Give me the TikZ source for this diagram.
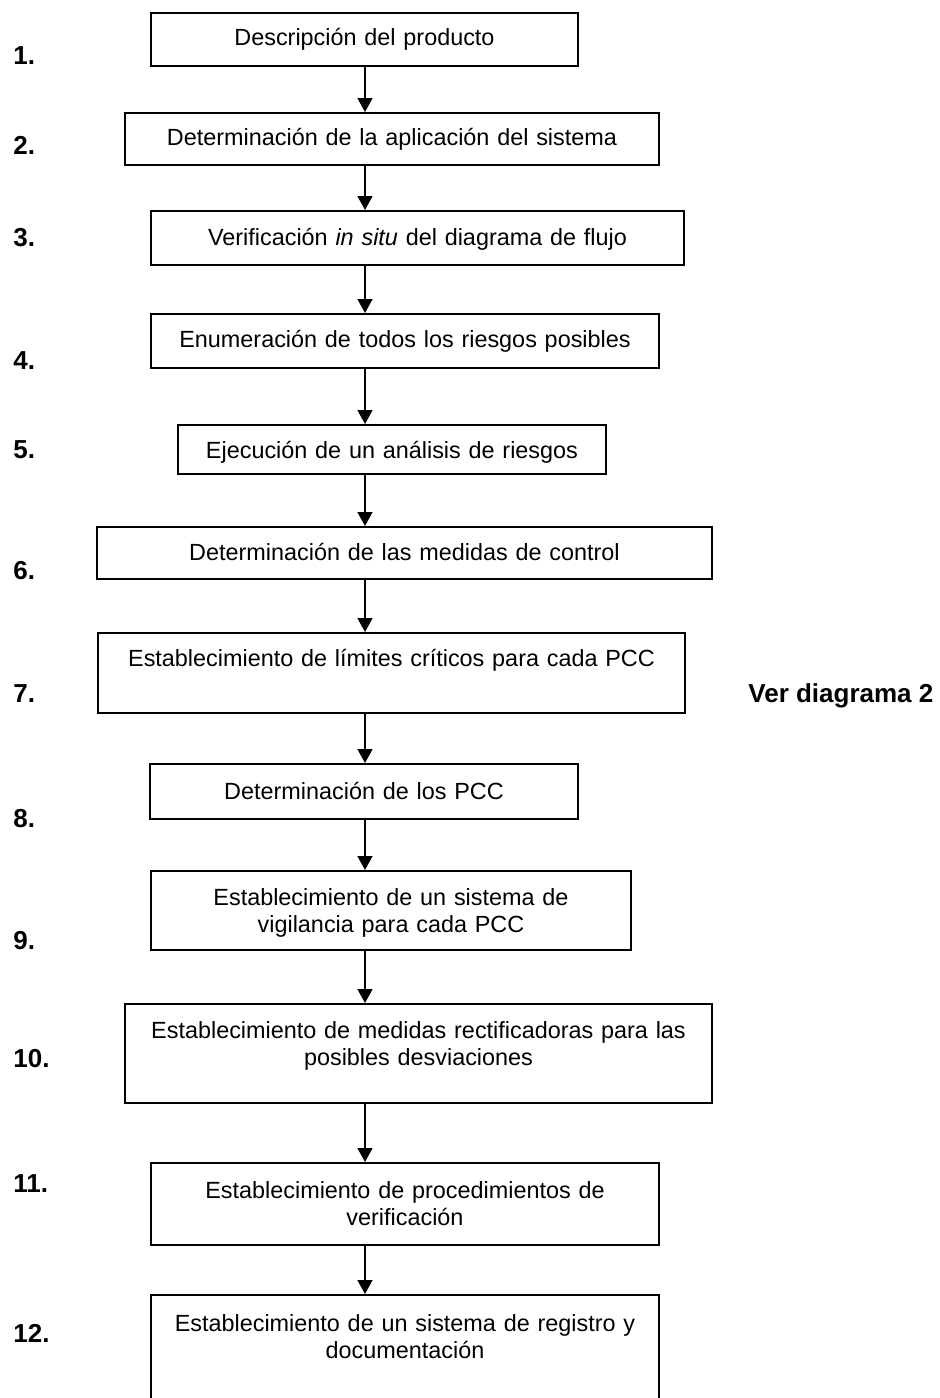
\documentclass[tikz,border=0pt]{standalone}
\usepackage{fontspec}
\setmainfont{Liberation Sans}
\usepackage{tikz}
\usetikzlibrary{positioning,arrows.meta}

\begin{document}
\begin{tikzpicture}[x=0.5pt,y=-0.5pt,
	box/.style={draw, line width=1pt, inner sep=0pt, anchor=north, align=center, font=\fontsize{11.7}{13.8}\selectfont},
	num/.style={anchor=base west, inner sep=0pt, font=\fontsize{13}{15}\selectfont\bfseries},
	arr/.style={line width=0.75pt, -{Triangle[length=7pt,width=7.5pt]}}]
				\useasboundingbox (0,0) rectangle (939,1398);
				\clip (0,0) rectangle (939,1398);
				\coordinate (ax) at (365,0);
				\node[box, text width=213.5pt, text height=16pt, text depth=10.5pt] (s1) at (364.5,12) {Descripción del producto};
				\node[box, text width=267pt, text height=16pt, text depth=10pt] (s2) at (392,112) {Determinación de la aplicación del sistema};
				\node[box, text width=266.5pt, text height=17pt, text depth=10pt] (s3) at (417.5,210) {Verificación \textit{in situ} del diagrama de flujo};
				\node[box, text width=254pt, text height=16.5pt, text depth=10.5pt] (s4) at (405,313) {Enumeración de todos los riesgos posibles};
				\node[box, text width=214pt, text height=16.5pt, text depth=8pt] (s5) at (392,424) {Ejecución de un análisis de riesgos};
				\node[box, text width=307.5pt, text height=16.5pt, text depth=9.5pt] (s6) at (404.5,526) {Determinación de las medidas de control};
				\node[box, text width=293.5pt, text height=16.5pt, text depth=23.5pt] (s7) at (391.5,632) {Establecimiento de límites críticos para cada PCC};
				\node[box, text width=214pt, text height=17.5pt, text depth=10pt] (s8) at (364,763) {Determinación de los PCC};
				\node[box, text width=240pt, text height=17pt, text depth=22.5pt] (s9) at (391,870) {Establecimiento de un sistema de\\vigilancia para cada PCC};
				\node[box, text width=293.5pt, text height=17pt, text depth=32.5pt] (s10) at (418.5,1003) {Establecimiento de medidas rectificadoras para las\\posibles desviaciones};
				\node[box, text width=254pt, text height=17.5pt, text depth=23.5pt] (s11) at (405,1162) {Establecimiento de procedimientos de\\verificación};
				\node[box, text width=254pt, text height=18pt, text depth=45pt] (s12) at (405,1294) {Establecimiento de un sistema de registro y\\documentación};
				% numbers on the left
				\node[num] (n1) at (13,64) {1.};
				\node[num] (n2) at (13,154) {2.};
				\node[num] (n3) at (13,246) {3.};
				\node[num] (n4) at (13,369) {4.};
				\node[num] (n5) at (13,458) {5.};
				\node[num] (n6) at (13,579) {6.};
				\node[num] (n7) at (13,702) {7.};
				\node[num] (n8) at (13,827) {8.};
				\node[num] (n9) at (13,949) {9.};
				\node[num] (n10) at (13,1067) {10.};
				\node[num] (n11) at (13,1192) {11.};
				\node[num] (n12) at (13,1342) {12.};
				\node[num] (ver) at (748,702) {Ver diagrama 2};
				% arrows
				\draw[arr] (s1.south -| ax) -- (s2.north -| ax);
				\draw[arr] (s2.south -| ax) -- (s3.north -| ax);
				\draw[arr] (s3.south -| ax) -- (s4.north -| ax);
				\draw[arr] (s4.south -| ax) -- (s5.north -| ax);
				\draw[arr] (s5.south -| ax) -- (s6.north -| ax);
				\draw[arr] (s6.south -| ax) -- (s7.north -| ax);
				\draw[arr] (s7.south -| ax) -- (s8.north -| ax);
				\draw[arr] (s8.south -| ax) -- (s9.north -| ax);
				\draw[arr] (s9.south -| ax) -- (s10.north -| ax);
				\draw[arr] (s10.south -| ax) -- (s11.north -| ax);
				\draw[arr] (s11.south -| ax) -- (s12.north -| ax);
\end{tikzpicture}
\end{document}
